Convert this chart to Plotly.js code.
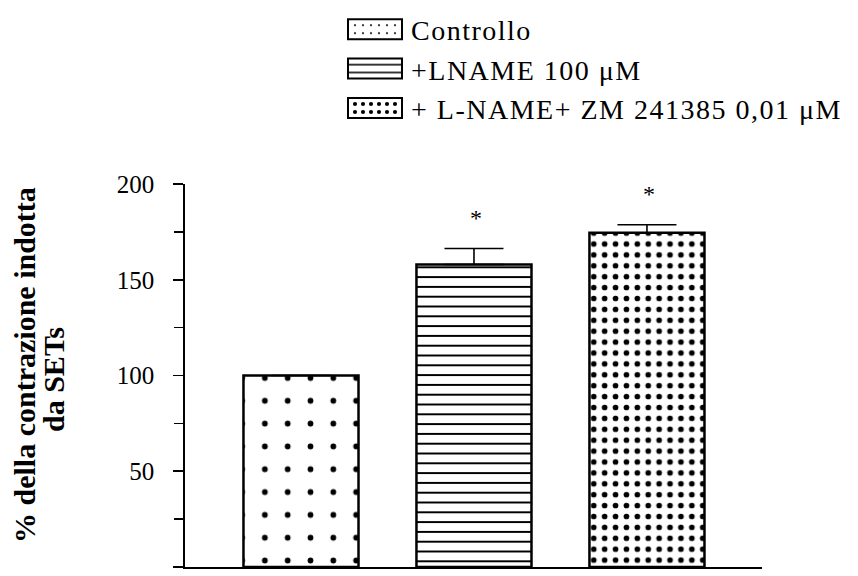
<!DOCTYPE html>
<html>
<head>
<meta charset="utf-8">
<script src="https://cdn.plot.ly/plotly-3.0.1.min.js"></script>
<style>
  html, body { margin: 0; padding: 0; background: #fff; }
  #chart { width: 858px; height: 576px; }
  /* wider tracking for the legend entries */
  .legendtext { letter-spacing: 1.5px; }
</style>
</head>
<body>
<div id="chart"></div>
<script>
// Contraction induced by SETs (% of control), mean ± SEM
const categories = ['Controllo', '+LNAME 100 μM', '+ L-NAME+ ZM 241385 0,01 μM'];
const values = [100, 158, 174.5];
const errors = [0, 8.3, 4.2];
const significance = ['', '*', '*'];
const yTitleLines = ['% della contrazione indotta', 'da SETs'];

// fill patterns: sparse dots, horizontal lines, dense dots
const patterns = [
  {shape: '.', size: 22.82, solidity: 0.05},
  {shape: '-', size: 9.8, solidity: 0.2},
  {shape: '.', size: 10.9, solidity: 0.21}
];

const serif = 'Liberation Serif, Times New Roman, serif';

const traces = categories.map((name, i) => ({
  type: 'bar',
  name: name,
  x: [name],
  y: [values[i]],
  marker: {
    color: '#ffffff',
    line: {color: '#000000', width: 2.5},
    pattern: Object.assign({fgcolor: '#000000', bgcolor: '#ffffff', fillmode: 'replace'}, patterns[i])
  },
  error_y: {
    type: 'data',
    symmetric: false,
    array: [errors[i]],
    arrayminus: [0],
    color: '#000000',
    thickness: 1.6,
    width: 29.5
  },
  hoverinfo: 'skip'
}));

// significance marks above the error bars
const starNotes = categories.map((name, i) => ({
  x: name,
  y: values[i] + errors[i],
  yref: 'y',
  text: significance[i],
  showarrow: false,
  yanchor: 'bottom',
  yshift: 16,
  xshift: 2,
  font: {family: serif, size: 24, color: '#000000'}
})).filter(a => a.text);

// two-line vertical axis title, set beside the y axis
const titleShifts = [{x: -161, y: 10.5}, {x: -132, y: -4.5}];
const titleNotes = yTitleLines.map((line, i) => ({
  xref: 'paper', yref: 'paper',
  x: 0, y: 0.5,
  xanchor: 'center', yanchor: 'middle',
  xshift: titleShifts[i].x, yshift: titleShifts[i].y,
  textangle: -90,
  text: '<b>' + line + '</b>',
  showarrow: false,
  font: {family: serif, size: 30, color: '#000000'}
}));

const layout = {
  width: 858,
  height: 576,
  margin: {l: 185, r: 96, t: 184, b: 9, pad: 0, autoexpand: false},
  paper_bgcolor: '#ffffff',
  plot_bgcolor: '#ffffff',
  barmode: 'overlay',
  bargap: 0.335,
  showlegend: true,
  legend: {
    x: 0.2669, y: 1.4687, xanchor: 'left', yanchor: 'top',
    font: {family: serif, size: 28, color: '#000000'},
    itemwidth: 62,
    bgcolor: 'rgba(0,0,0,0)',
    traceorder: 'normal'
  },
  xaxis: {
    type: 'category',
    range: [-0.6705, 2.665],
    showline: true, linecolor: '#000000', linewidth: 1.8,
    showticklabels: false, ticks: '', showgrid: false, zeroline: false,
    fixedrange: true
  },
  yaxis: {
    range: [0, 200],
    tickvals: [0, 50, 100, 150, 200],
    showline: true, linecolor: '#000000', linewidth: 1.8,
    ticks: 'outside', ticklen: 10, tickwidth: 1.6, tickcolor: '#000000',
    minor: {tickvals: [25, 75, 125, 175], ticks: 'outside', ticklen: 9, tickwidth: 1.6, tickcolor: '#000000', showgrid: false},
    ticklabelstandoff: 14,
    tickfont: {family: serif, size: 25, color: '#000000'},
    showgrid: false, zeroline: false,
    fixedrange: true
  },
  annotations: starNotes.concat(titleNotes)
};

// widen the legend swatches into flat rectangles with a firmer outline
function widenSwatches(gd) {
  gd.querySelectorAll('.legend .legendpoints path').forEach(p => {
    p.setAttribute('d', 'M27,10H-27V-10H27Z');
    p.style.strokeWidth = '2px';
  });
}

Plotly.newPlot('chart', traces, layout, {displayModeBar: false, staticPlot: true}).then(gd => {
  widenSwatches(gd);
  gd.on('plotly_afterplot', () => widenSwatches(gd));
});
</script>
</body>
</html>
